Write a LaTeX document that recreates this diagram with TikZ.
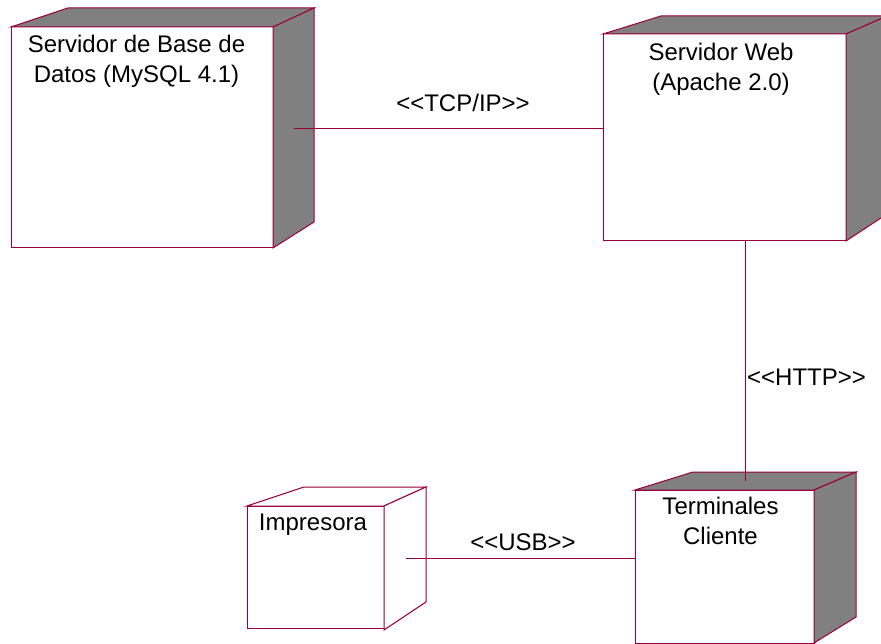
\documentclass[tikz,border=0pt]{standalone}
\usepackage{fontspec}
\setmainfont{Liberation Sans}
\definecolor{edge}{RGB}{153,0,51}
\definecolor{side}{RGB}{128,128,128}
\begin{document}
\begin{tikzpicture}[x=1pt,y=-1pt,
  front/.style={draw=edge,fill=white,line width=1pt,inner sep=0pt,outer sep=0pt,rectangle},
  face/.style={draw=edge,line width=1pt,line join=miter},
  lbl/.style={inner sep=0pt,font=\fontsize{24}{30}\selectfont,align=center,text=black},
  conn/.style={draw=edge,line width=1pt}]
\useasboundingbox (0,0) rectangle (881,644);
\clip (0,0) rectangle (881,644);
% Database server
\node[front,minimum width=262pt,minimum height=221pt] (db) at (142,137.5) {};
\filldraw[face,fill=side] (11,27) -- (68,8) -- (314,8) -- (273,27) -- cycle;
\filldraw[face,fill=side] (273,27) -- (314,8) -- (314,222) -- (273,248) -- cycle;
\node[lbl,anchor=north] (dbt) at (136.5,34.5) {Servidor de Base de\\Datos (MySQL 4.1)};
\coordinate (dbs) at (294,129);
% Web server
\node[front,minimum width=243pt,minimum height=207pt] (web) at (724.5,137.5) {};
\filldraw[face,fill=side] (603,34) -- (661,16) -- (887,16) -- (846,34) -- cycle;
\filldraw[face,fill=side] (846,34) -- (887,16) -- (887,214) -- (846,241) -- cycle;
\node[lbl,anchor=north] (webt) at (721,42.5) {Servidor Web\\(Apache 2.0)};
% Terminals
\node[front,minimum width=179pt,minimum height=153pt] (term) at (724.5,566.5) {};
\filldraw[face,fill=side] (635,490) -- (693,472) -- (856,472) -- (814,490) -- cycle;
\filldraw[face,fill=side] (814,490) -- (856,472) -- (856,617) -- (814,643) -- cycle;
\node[lbl,anchor=north] (termt) at (720.5,496.5) {Terminales\\Cliente};
\coordinate (termtop) at (745,481);
% Printer
\node[front,minimum width=137pt,minimum height=122pt] (prn) at (315.5,567) {};
\filldraw[face,fill=white] (247,506) -- (304,487) -- (426,487) -- (384,506) -- cycle;
\filldraw[face,fill=white] (384,506) -- (426,487) -- (426,602) -- (384,630) -- cycle;
\node[lbl,anchor=north] (prnt) at (313,513.5) {Impresora};
\coordinate (prns) at (406,558);
% Connectors
\draw[conn] (dbs) -- (dbs -| web.west);
\draw[conn] (termtop |- web.south) -- (termtop);
\draw[conn] (prns) -- (prns -| term.west);
\node[lbl,anchor=base] (tcp) at (463,112) {<{}<TCP/IP>{}>};
\node[lbl,anchor=base west] (http) at (747,385) {<{}<HTTP>{}>};
\node[lbl,anchor=base] (usb) at (523,550) {<{}<USB>{}>};
\end{tikzpicture}
\end{document}
